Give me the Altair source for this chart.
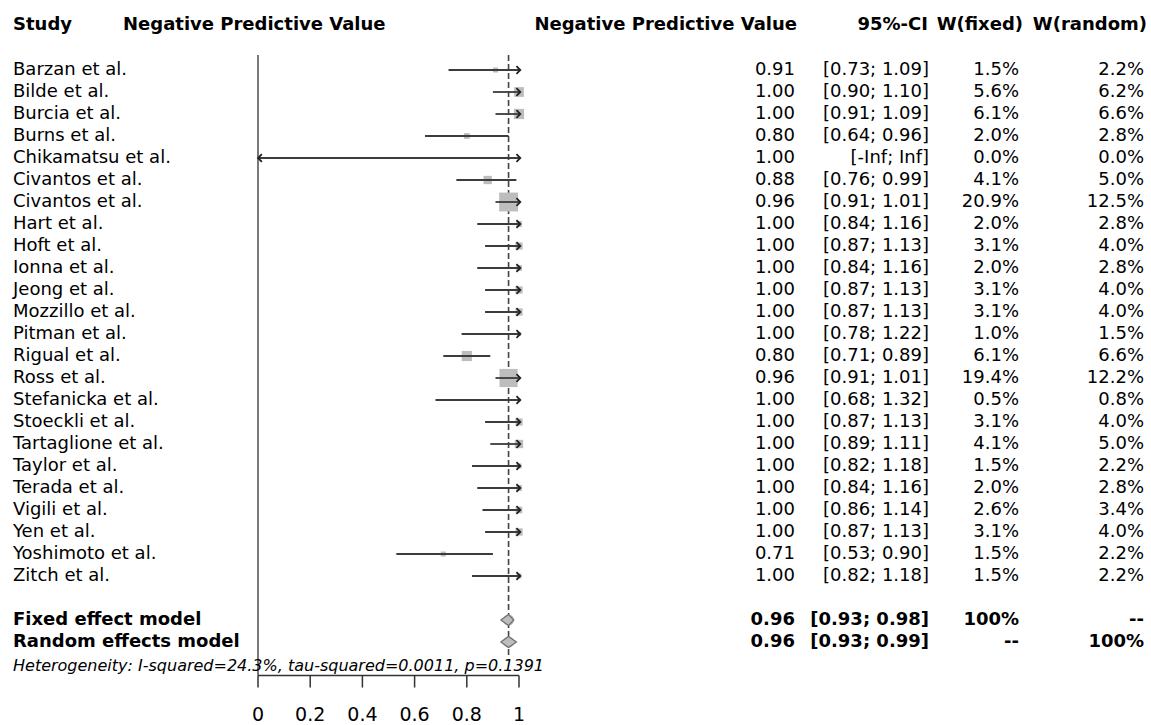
import altair as alt
import pandas as pd

# ---------------- data ----------------
studies = ["Barzan et al.", "Bilde et al.", "Burcia et al.", "Burns et al.",
           "Chikamatsu et al.", "Civantos et al.", "Civantos et al.", "Hart et al.",
           "Hoft et al.", "Ionna et al.", "Jeong et al.", "Mozzillo et al.",
           "Pitman et al.", "Rigual et al.", "Ross et al.", "Stefanicka et al.",
           "Stoeckli et al.", "Tartaglione et al.", "Taylor et al.", "Terada et al.",
           "Vigili et al.", "Yen et al.", "Yoshimoto et al.", "Zitch et al."]
npv = [0.91, 1.00, 1.00, 0.80, 1.00, 0.88, 0.96, 1.00, 1.00, 1.00, 1.00, 1.00,
       1.00, 0.80, 0.96, 1.00, 1.00, 1.00, 1.00, 1.00, 1.00, 1.00, 0.71, 1.00]
ci_lower = [0.73, 0.90, 0.91, 0.64, None, 0.76, 0.91, 0.84, 0.87, 0.84, 0.87, 0.87,
            0.78, 0.71, 0.91, 0.68, 0.87, 0.89, 0.82, 0.84, 0.86, 0.87, 0.53, 0.82]
ci_upper = [1.09, 1.10, 1.09, 0.96, None, 0.99, 1.01, 1.16, 1.13, 1.16, 1.13, 1.13,
            1.22, 0.89, 1.01, 1.32, 1.13, 1.11, 1.18, 1.16, 1.14, 1.13, 0.90, 1.18]
w_fixed = [1.5, 5.6, 6.1, 2.0, 0.0, 4.1, 20.9, 2.0, 3.1, 2.0, 3.1, 3.1,
           1.0, 6.1, 19.4, 0.5, 3.1, 4.1, 1.5, 2.0, 2.6, 3.1, 1.5, 1.5]
w_random = [2.2, 6.2, 6.6, 2.8, 0.0, 5.0, 12.5, 2.8, 4.0, 2.8, 4.0, 4.0,
            1.5, 6.6, 12.2, 0.8, 4.0, 5.0, 2.2, 2.8, 3.4, 4.0, 2.2, 2.2]

models = ["Fixed effect model", "Random effects model"]
model_est = [0.96, 0.96]
model_lower = [0.93, 0.93]
model_upper = [0.98, 0.99]
model_wf_text = ["100%", "--"]
model_wr_text = ["--", "100%"]

heterogeneity = "Heterogeneity: I-squared=24.3%, tau-squared=0.0011, p=0.1391"

tick_values = [0, 0.2, 0.4, 0.6, 0.8, 1]
tick_labels = ["0", "0.2", "0.4", "0.6", "0.8", "1"]

headers = ["Study", "Negative Predictive Value", "Negative Predictive Value",
           "95%-CI", "W(fixed)", "W(random)"]

# ---------------- layout ----------------
W, H = 1151, 725
ROW_PX, ROW0_PX = 22.0, 70.0
X0_PX, UNIT_PX = 258.0, 261.0
FONT = "DejaVu Sans"
FS = 18
CLIP_HI = 1.005

xs = alt.Scale(domain=[-X0_PX / UNIT_PX, (W - X0_PX) / UNIT_PX], nice=False, zero=False)
ys = alt.Scale(domain=[-ROW0_PX / ROW_PX, (H - ROW0_PX) / ROW_PX], nice=False,
               zero=False, reverse=True)


def fmt_ci(lo, hi):
    a = "-Inf" if lo is None else f"{lo:.2f}"
    b = "Inf" if hi is None else f"{hi:.2f}"
    return f"[{a}; {b}]"


n = len(studies)
df = pd.DataFrame({
    "study": studies,
    "row": list(range(n)),
    "npv": npv,
    "lower": ci_lower,
    "upper": ci_upper,
    "wf": w_fixed,
    "wr": w_random,
})
df["est_txt"] = [f"{v:.2f}" for v in npv]
df["ci_txt"] = [fmt_ci(a, b) for a, b in zip(ci_lower, ci_upper)]
df["wf_txt"] = [f"{v:.1f}%" for v in w_fixed]
df["wr_txt"] = [f"{v:.1f}%" for v in w_random]
df["box"] = df["wf"] * 17.0

mrow0 = n + 1
mdf = pd.DataFrame({
    "label": models,
    "row": [mrow0 + i for i in range(len(models))],
    "est": model_est,
    "lower": model_lower,
    "upper": model_upper,
    "est_txt": [f"{v:.2f}" for v in model_est],
    "ci_txt": [fmt_ci(a, b) for a, b in zip(model_lower, model_upper)],
    "wf_txt": model_wf_text,
    "wr_txt": model_wr_text,
})

# diamonds built from model estimates: filled trail + outline polygon
D_WIDTH_PX = 11.0
D_HALF_ROW = D_WIDTH_PX / 2 / ROW_PX
trail_rows, outline_rows = [], []
for i, m in enumerate(models):
    r = mrow0 + i
    for k, (xv, w) in enumerate([(model_lower[i], 0.0), (model_est[i], D_WIDTH_PX),
                                 (model_upper[i], 0.0)]):
        trail_rows.append({"model": m, "k": k, "x": xv, "y": r, "w": w})
    pts = [(model_lower[i], r), (model_est[i], r - D_HALF_ROW), (model_upper[i], r),
           (model_est[i], r + D_HALF_ROW), (model_lower[i], r)]
    for k, (xv, yv) in enumerate(pts):
        outline_rows.append({"model": m, "k": k, "x": xv, "y": yv})
trail_df = pd.DataFrame(trail_rows)
outline_df = pd.DataFrame(outline_rows)

HEAD_ROW = -2.05
hdf = pd.DataFrame({
    "text": headers,
    "px": [13, 123, 797, 928, 1023, 1147],
    "align": ["left", "left", "right", "right", "right", "right"],
    "row": [HEAD_ROW] * len(headers),
})

TOP_ROW = -0.68
AXIS_ROW = 27.52
TICK_END_ROW = 28.07
LABEL_ROW = 29.32
DASH_END_ROW = 26.6
HET_ROW = 27.09


def Y(f):
    return alt.Y(f, scale=ys, axis=None)


def X(f):
    return alt.X(f, scale=xs, axis=None)


# ---------------- text columns ----------------
def col_text(data, field, px, align, bold=False):
    return alt.Chart(data).mark_text(
        align=align, baseline="middle", font=FONT, fontSize=FS, color="black",
        fontWeight="bold" if bold else "normal"
    ).encode(x=alt.value(px), y=Y("row:Q"), text=f"{field}:N")


study_txt = col_text(df, "study", 13, "left")
est_txt = col_text(df, "est_txt", 795, "right")
ci_txt = col_text(df, "ci_txt", 929, "right")
wf_txt = col_text(df, "wf_txt", 1019, "right")
wr_txt = col_text(df, "wr_txt", 1144, "right")

m_label = col_text(mdf, "label", 13, "left", True)
m_est = col_text(mdf, "est_txt", 795, "right", True)
m_ci = col_text(mdf, "ci_txt", 929, "right", True)
m_wf = col_text(mdf, "wf_txt", 1019, "right", True)
m_wr = col_text(mdf, "wr_txt", 1144, "right", True)

head_layers = []
for i in range(len(hdf)):
    h = hdf.iloc[i]
    head_layers.append(
        alt.Chart(hdf.iloc[[i]]).mark_text(
            align=h["align"], baseline="middle", font=FONT, fontSize=FS,
            fontWeight="bold", color="black"
        ).encode(x=alt.value(int(h["px"])), y=Y("row:Q"), text="text:N")
    )

het = alt.Chart(pd.DataFrame({"t": [heterogeneity], "row": [HET_ROW]})).mark_text(
    align="left", baseline="middle", font=FONT, fontSize=16, fontStyle="italic",
    color="black"
).encode(x=alt.value(13), y=Y("row:Q"), text="t:N")

# ---------------- forest plot ----------------
clipped = alt.Chart(df).transform_calculate(
    lo="isValid(datum.lower) ? max(datum.lower, 0) : 0",
    hi=f"isValid(datum.upper) ? min(datum.upper, {CLIP_HI}) : {CLIP_HI}",
    arr_r=f"!isValid(datum.upper) || datum.upper > {CLIP_HI}",
    arr_l="!isValid(datum.lower) || datum.lower < 0",
)

boxes = alt.Chart(df).mark_square(color="#bdbdbd", opacity=1).encode(
    x=X("npv:Q"), y=Y("row:Q"), size=alt.Size("box:Q", scale=None, legend=None)
)
ci_lines = clipped.mark_rule(color="#3c3c3c", strokeWidth=1.8).encode(
    x=X("lo:Q"), x2="hi:Q", y=Y("row:Q")
)
arrows_r = clipped.transform_filter("datum.arr_r").mark_point(
    shape="M-1,-1L0,0L-1,1", filled=False, stroke="#222222", strokeWidth=1.8,
    size=60, opacity=1
).encode(x=X("hi:Q"), y=Y("row:Q"))
arrows_l = clipped.transform_filter("datum.arr_l").mark_point(
    shape="M1,-1L0,0L1,1", filled=False, stroke="#222222", strokeWidth=1.8,
    size=60, opacity=1
).encode(x=X("lo:Q"), y=Y("row:Q"))

null_line = alt.Chart(pd.DataFrame({"x": [0], "y": [TOP_ROW], "y2": [AXIS_ROW]})).mark_rule(
    color="#7a7a7a", strokeWidth=2
).encode(x=X("x:Q"), y=Y("y:Q"), y2="y2:Q")

dash_line = alt.Chart(pd.DataFrame({"x": [model_est[0]], "y": [TOP_ROW], "y2": [DASH_END_ROW]})).mark_rule(
    color="#444444", strokeWidth=1.6, strokeDash=[6, 3]
).encode(x=X("x:Q"), y=Y("y:Q"), y2="y2:Q")

diamond_fill = alt.Chart(trail_df).mark_trail(color="#bdbdbd", opacity=1).encode(
    x=X("x:Q"), y=Y("y:Q"), size=alt.Size("w:Q", scale=None, legend=None),
    detail="model:N", order="k:Q"
)
diamond_outline = alt.Chart(outline_df).mark_line(
    color="#6f6f6f", strokeWidth=1.2
).encode(x=X("x:Q"), y=Y("y:Q"), detail="model:N", order="k:Q")

# ---------------- x axis (drawn from tick lists) ----------------
tdf = pd.DataFrame({"v": tick_values, "lab": tick_labels,
                    "y": [AXIS_ROW] * len(tick_values),
                    "y2": [TICK_END_ROW] * len(tick_values),
                    "ly": [LABEL_ROW] * len(tick_values)})
axis_line = alt.Chart(pd.DataFrame({"a": [min(tick_values)], "b": [max(tick_values)], "y": [AXIS_ROW]})).mark_rule(
    color="#333333", strokeWidth=1.5
).encode(x=X("a:Q"), x2="b:Q", y=Y("y:Q"))
ticks = alt.Chart(tdf).mark_rule(color="#333333", strokeWidth=1.5).encode(
    x=X("v:Q"), y=Y("y:Q"), y2="y2:Q"
)
tick_txt = alt.Chart(tdf).mark_text(
    align="center", baseline="middle", font=FONT, fontSize=19, color="black"
).encode(x=X("v:Q"), y=Y("ly:Q"), text="lab:N")

chart = alt.layer(
    null_line, dash_line, boxes, ci_lines, arrows_r, arrows_l,
    diamond_fill, diamond_outline,
    axis_line, ticks, tick_txt,
    study_txt, est_txt, ci_txt, wf_txt, wr_txt,
    m_label, m_est, m_ci, m_wf, m_wr, het, *head_layers
).properties(
    width=W, height=H, autosize=alt.AutoSizeParams(type="none"), padding=0,
    background="white"
).configure_view(stroke=None)

chart.save("out.html", embed_options={"renderer": "svg", "actions": False})
